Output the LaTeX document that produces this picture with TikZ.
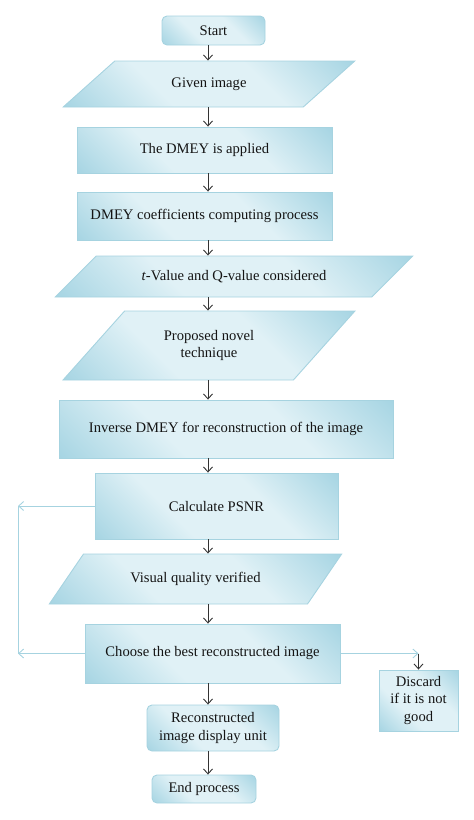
\documentclass[tikz,border=0pt]{standalone}
\usepackage{fontspec}
\setmainfont{Liberation Serif}
\usepackage{xcolor}
\definecolor{boxdark}{HTML}{82C3D7}
\definecolor{boxlight}{HTML}{E0F1F6}
\definecolor{boxline}{HTML}{A6D3E0}
\definecolor{txt}{HTML}{141414}
\usepackage{tikz}
\usetikzlibrary{arrows.meta,shapes.geometric}
\pgfdeclarehorizontalshading{boxfill}{100bp}{color(0bp)=(boxdark); color(38bp)=(boxlight); color(62bp)=(boxlight); color(100bp)=(boxdark)}

\begin{document}
\begin{tikzpicture}[x=1pt,y=-1pt,>={Straight Barb[length=5pt,width=9pt]},line width=0.9pt]
              \tikzstyle{every node}=[font=\fontsize{14.6}{17.5}\selectfont,text=txt,align=center,inner sep=0pt]
              \tikzstyle{box}=[rectangle,draw=boxline,shading=boxfill,shading angle=45]
              \tikzstyle{term}=[box,rounded corners=5pt]
              \tikzstyle{data}=[box,trapezium,trapezium stretches=true]
              \tikzstyle{e}=[->,color=black!80]
              \tikzstyle{fb}=[->,color=boxline]

              \useasboundingbox (0,0) rectangle (474,820);

              \node[term,minimum width=103pt,minimum height=29pt] (A) at (213.5,30.5) {Start};
              \node[data,minimum width=292pt,minimum height=46pt,trapezium left angle=32,trapezium right angle=148] (B) at (209,84) {Given image};
              \node[box,minimum width=255pt,minimum height=46pt] (C) at (204.5,150) {The DMEY is applied};
              \node[box,minimum width=255pt,minimum height=48pt] (D) at (204.5,216) {DMEY coefficients computing process};
              \node[data,minimum width=358pt,minimum height=41pt,trapezium left angle=24.5,trapezium right angle=155.5] (E) at (234,276.5) {\textit{t}-Value and Q-value considered};
              \node[data,minimum width=292pt,minimum height=69pt,trapezium left angle=43,trapezium right angle=137] (F) at (209,345.5) {Proposed novel\\technique};
              \node[box,minimum width=334pt,minimum height=58pt] (G) at (226,429) {Inverse DMEY for reconstruction of the image};
              \node[box,minimum width=243pt,minimum height=66pt] (H) at (216.5,506) {Calculate PSNR};
              \node[data,minimum width=293pt,minimum height=50pt,trapezium left angle=34,trapezium right angle=146] (I) at (195.5,579) {Visual quality verified};
              \node[box,minimum width=255pt,minimum height=59pt] (J) at (212.5,653.5) {Choose the best reconstructed image};
              \node[box,minimum width=79pt,minimum height=61pt] (K) at (418.5,700.5) {Discard\\if it is not\\good};
              \node[term,minimum width=132pt,minimum height=46pt] (L) at (213,728) {Reconstructed\\image display unit};
              \node[term,minimum width=104pt,minimum height=28pt] (M) at (204,789) {End process};

              \coordinate (S) at (208,0);
              \coordinate (P) at (18,0);

              \draw[e] (A.south -| S) -- (B.north -| S);
              \draw[e] (B.south -| S) -- (C.north -| S);
              \draw[e] (C.south -| S) -- (D.north -| S);
              \draw[e] (D.south -| S) -- (E.north -| S);
              \draw[e] (E.south -| S) -- (F.north -| S);
              \draw[e] (F.south -| S) -- (G.north -| S);
              \draw[e] (G.south -| S) -- (H.north -| S);
              \draw[e] (H.south -| S) -- (I.north -| S);
              \draw[e] (I.south -| S) -- (J.north -| S);
              \draw[e] (J.south -| S) -- (L.north -| S);
              \draw[e] (L.south -| S) -- (M.north -| S);

              \draw[fb] (H.west) -- (H.west -| P);
              \draw[fb] (J.west) -- (J.west -| P);
              \draw[fb,-] (H.west -| P) -- (J.west -| P);
              \draw[fb] (J.east) -- (J.east -| K);
              \draw[e] (J.east -| K) -- (K.north);
\end{tikzpicture}
\end{document}
